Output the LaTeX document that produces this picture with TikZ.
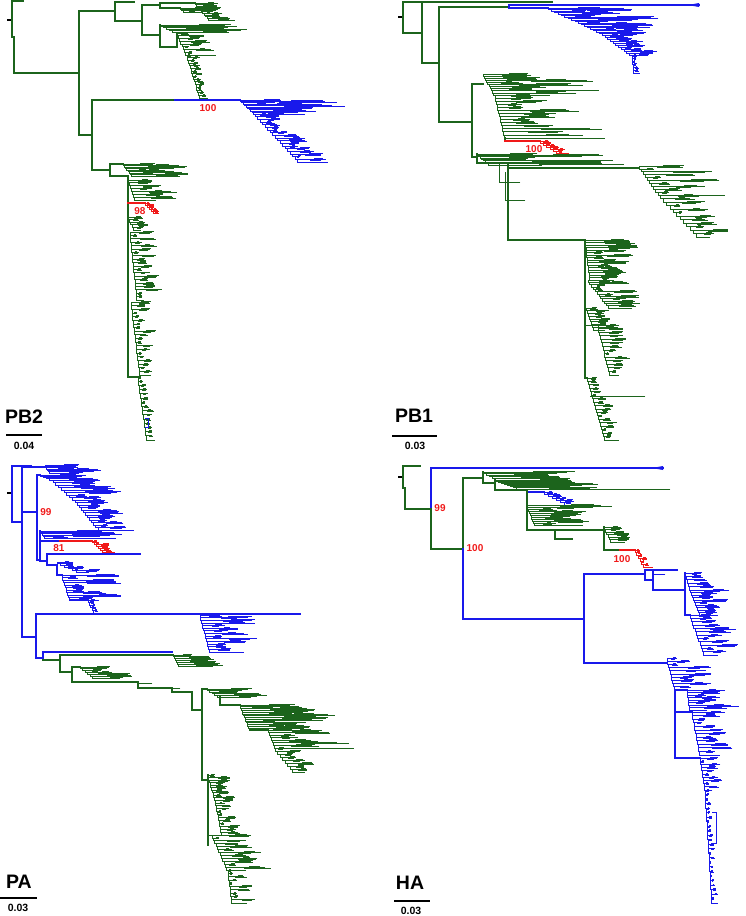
\documentclass[tikz,border=0pt]{standalone}
\usepackage{fontspec}
\setmainfont{Liberation Sans}
\definecolor{cg}{RGB}{28,100,28}
\definecolor{cb}{RGB}{25,25,235}
\definecolor{cr}{RGB}{240,25,25}
\newcommand\tclade[8]{%
  \foreach \li in {1,...,#6}{%
    \pgfmathsetmacro\lxp{#2+(\li-1)/#6*(#4-#2)}%
    \pgfmathsetmacro\lyp{#3+(\li-1)/#6*(#5-#3)}%
    \pgfmathsetmacro\lxc{#2+\li/#6*(#4-#2)}%
    \pgfmathsetmacro\lyc{#3+\li/#6*(#5-#3)}%
    \pgfmathsetmacro\ltl{#7+rnd*(#8-#7)}%
    \pgfmathsetmacro\ltm{\ltl*(0.25+0.5*rnd)}%
    \pgfmathsetmacro\ltn{\ltl*(0.15+0.35*rnd)}%
    \draw[#1] (\lxp,\lyp) |- (\lxc,\lyc);
    \draw[#1] (\lxp,\lyp) -- ++(\ltl,0);
    \draw[#1] (\lxp+0.45*\ltl,\lyp) |- ++(\ltm,0.9);
    \draw[#1] (\lxp+0.6*\ltl,\lyp) |- ++(\ltn,-0.8);
  }%
  \pgfmathsetmacro\ltl{#7+rnd*(#8-#7)}%
  \draw[#1] (#4,#5) -- ++(\ltl,0);
}
\begin{document}
\begin{tikzpicture}[x=1pt,y=-1pt,line cap=rect,
  gbr/.style={draw=cg,line width=1.3pt},
  bbr/.style={draw=cb,line width=1.3pt},
  rbr/.style={draw=cr,line width=1.3pt},
  gtw/.style={draw=cg,line width=0.8pt},
  btw/.style={draw=cb,line width=0.8pt},
  rtw/.style={draw=cr,line width=0.8pt},
  blk/.style={draw=black,line width=1.6pt},
  lab/.style={font=\bfseries\fontsize{10}{12}\selectfont,text=cr,inner sep=0pt},
  gene/.style={font=\bfseries\fontsize{19.5}{22}\selectfont,inner sep=0pt},
  sc/.style={font=\bfseries\fontsize{10.5}{12}\selectfont,inner sep=0pt},
  scalebar/.style={draw=black,line width=2.7pt,line cap=butt}]
\useasboundingbox (0,0) rectangle (745,916);
\pgfmathsetseed{7}
% ================= PB2 =================
\draw[blk] (8,20)--(12,20);
\draw[gbr] (23,1)--(12,1)--(12,37)--(14,37)--(14,73)--(79,73);
\draw[gbr] (115,11)--(79,11)--(79,135)--(92,135);
\draw[gbr] (134,2)--(115,2)--(115,21)--(142,21);
\draw[gbr] (160,5)--(142,5)--(142,35)--(160,35);
\draw[gbr] (195,3)--(160,3)--(160,8)--(180,8);
\tclade{gtw}{195}{3}{210}{20}{10}{8}{25}
\tclade{gtw}{180}{8}{185}{12}{3}{10}{30}
\draw[gbr] (160,25)--(160,47)--(177,47);
\tclade{gtw}{160}{25}{176}{32}{5}{40}{70}
\draw[gbr] (177,33)--(177,47);
\tclade{gtw}{177}{33}{187}{55}{8}{5}{35}
\tclade{gtw}{187}{55}{200}{98}{16}{2}{12}
\draw[gbr] (92,100)--(175,100);
\draw[bbr] (175,100)--(240,100);
\tclade{btw}{240}{100}{255}{114}{10}{25}{95}
\tclade{btw}{255}{114}{300}{162}{18}{5}{28}
\node[lab] (l100a) at (208,108) {100};
\draw[gbr] (92,100)--(92,170)--(110,170);
\draw[gbr] (123,164)--(110,164)--(110,176)--(128,176);
\tclade{gtw}{123}{164}{133}{176}{8}{20}{60}
\draw[gbr] (128,176)--(128,377)--(138,377);
\tclade{gtw}{128}{180}{135}{200}{7}{10}{40}
\draw[rbr] (128,203)--(145,203);
\tclade{rtw}{145}{203}{155}{213}{5}{3}{8}
\node[lab] (l98) at (140,211) {98};
\tclade{gtw}{128}{217}{135}{230}{5}{5}{15}
\tclade{gtw}{130}{232}{137}{300}{20}{3}{25}
\tclade{gtw}{131}{302}{140}{375}{20}{3}{22}
\tclade{gtw}{138}{377}{147}{440}{15}{2}{10}
\draw[btw] (145,418)--(148,418)--(148,427)--(145,427);
\node[gene] (pb2) at (24,417) {PB2};
\draw[scalebar] (6,435)--(42,435);
\node[sc] (s1) at (24,446) {0.04};
% ================= PB1 =================
\draw[blk] (399,17)--(403,17);
\draw[gbr] (552,2)--(403,2)--(403,33)--(422,33);
\draw[gbr] (422,2)--(422,63)--(439,63);
\draw[gbr] (509,7)--(439,7)--(439,122)--(472,122);
\draw[bbr] (509,5)--(699,5);
\draw[bbr] (509,5)--(509,8)--(548,8);
\fill[cb] (688,5)--(699,3)--(699,7)--cycle;
\tclade{btw}{548}{8}{575}{20}{8}{20}{90}
\tclade{btw}{575}{20}{605}{35}{10}{20}{70}
\tclade{btw}{605}{35}{632}{55}{10}{10}{45}
\tclade{btw}{632}{55}{634}{73}{6}{2}{6}
\draw[gbr] (472,84)--(472,157);
\draw[gbr] (472,84)--(483,84);
\tclade{gtw}{483}{74}{495}{95}{10}{30}{110}
\tclade{gtw}{495}{95}{505}{138}{14}{20}{100}
\draw[gbr] (505,138)--(505,141);
\draw[rbr] (505,141)--(540,141);
\tclade{rtw}{540}{141}{560}{153}{6}{3}{12}
\node[lab] (l100b) at (534,149) {100};
\draw[gbr] (472,157)--(477,157);
\tclade{gtw}{477}{154}{490}{165}{8}{40}{150}
\draw[gbr] (477,154)--(477,163)--(508,163)--(508,240)--(585,240);
\draw[gbr] (508,168)--(639,168);
\draw[gtw] (499,163)--(499,182)--(520,182);
\draw[gtw] (505,172)--(505,200)--(525,200);
\tclade{gtw}{639}{166}{660}{195}{10}{10}{75}
\tclade{gtw}{660}{195}{700}{237}{12}{5}{40}
\draw[gbr] (585,240)--(585,378)--(587,378);
\tclade{gtw}{585}{240}{590}{280}{16}{10}{55}
\tclade{gtw}{588}{280}{610}{308}{12}{5}{40}
\tclade{gtw}{586}{308}{595}{330}{8}{8}{28}
\draw[gtw] (585,325)--(598,325);
\tclade{gtw}{598}{325}{610}{375}{14}{3}{25}
\tclade{gtw}{587}{378}{605}{440}{18}{3}{18}
\draw[gtw] (590,396)--(645,396);
\node[gene] (pb1) at (414,416) {PB1};
\draw[scalebar] (392,436)--(437,436);
\node[sc] (s2) at (415,446) {0.03};
% ================= PA =================
\draw[blk] (8,493)--(12,493);
\draw[bbr] (31,466)--(12,466)--(12,522)--(22,522);
\draw[bbr] (45,467)--(22,467)--(22,637)--(36,637);
\tclade{btw}{45}{465}{50}{473}{6}{20}{50}
\draw[bbr] (22,512)--(37,512);
\draw[bbr] (40,475)--(37,475)--(37,560)--(40,560);
\node[lab] (l99a) at (46,512) {99};
\tclade{btw}{40}{475}{53}{480}{4}{30}{60}
\tclade{btw}{53}{480}{75}{500}{8}{15}{55}
\tclade{btw}{75}{500}{100}{530}{12}{10}{37}
\draw[bbr] (40,531)--(40,561);
\tclade{btw}{40}{531}{45}{538}{5}{20}{90}
\draw[bbr] (40,541)--(60,541);
\draw[rbr] (60,541)--(92,541);
\tclade{rtw}{92}{541}{105}{552}{6}{3}{12}
\node[lab] (l81) at (59,548) {81};
\draw[bbr] (40,561)--(47,561);
\draw[bbr] (47,554)--(140,554);
\draw[bbr] (47,554)--(47,565)--(57,565);
\tclade{btw}{57}{562}{80}{572}{6}{5}{25}
\draw[bbr] (57,565)--(57,575)--(62,575);
\tclade{btw}{62}{575}{70}{600}{10}{10}{65}
\draw[bbr] (70,600)--(88,600);
\tclade{btw}{88}{600}{95}{613}{5}{3}{8}
\draw[bbr] (36,614)--(36,658);
\draw[bbr] (36,614)--(300,614);
\tclade{btw}{200}{615}{210}{652}{14}{15}{53}
\draw[bbr] (36,658)--(43,658);
\draw[bbr] (43,652)--(43,660);
\draw[bbr] (43,652)--(172,652);
\draw[gbr] (43,660)--(60,660);
\draw[gbr] (60,655)--(60,672);
\draw[gbr] (60,655)--(173,655);
\tclade{gtw}{173}{655}{180}{666}{6}{15}{45}
\draw[gbr] (60,672)--(72,672);
\draw[gbr] (72,667)--(72,682);
\draw[gbr] (72,667)--(80,667);
\tclade{gtw}{80}{667}{95}{678}{6}{15}{40}
\draw[gbr] (72,682)--(138,682)--(138,688)--(172,688)--(172,692)--(192,692)--(192,710)--(202,710);
\draw[gtw] (138,683)--(152,683);
\draw[gtw] (172,688)--(180,688);
\draw[gbr] (207,689)--(202,689)--(202,780)--(208,780);
\tclade{gtw}{207}{689}{220}{697}{5}{20}{55}
\draw[gbr] (220,697)--(220,705)--(240,705);
\tclade{gtw}{240}{705}{250}{730}{14}{25}{90}
\draw[gbr] (250,730)--(268,730);
\tclade{gtw}{268}{730}{275}{748}{7}{15}{80}
\tclade{gtw}{275}{748}{295}{772}{8}{5}{25}
\draw[gbr] (208,775)--(208,845);
\tclade{gtw}{208}{775}{215}{800}{10}{5}{25}
\tclade{gtw}{215}{800}{222}{835}{12}{3}{18}
\draw[gtw] (208,835)--(212,835);
\tclade{gtw}{212}{835}{228}{870}{12}{5}{45}
\tclade{gtw}{228}{870}{232}{903}{10}{2}{25}
\node[gene] (pa) at (19,882) {PA};
\draw[scalebar] (0,898)--(37,898);
\node[sc] (s3) at (18,908) {0.03};
% ================= HA =================
\draw[blk] (399,477)--(403,477);
\draw[gbr] (420,466)--(403,466)--(403,488)--(405,488)--(405,509)--(431,509);
\node[lab] (l99b) at (440,508) {99};
\draw[bbr] (663,468)--(431,468)--(431,509);
\fill[cb] (652,468)--(663,466)--(663,470)--cycle;
\draw[gbr] (431,509)--(431,549)--(463,549);
\node[lab] (l100c) at (475,548) {100};
\draw[gbr] (463,478)--(463,549);
\draw[bbr] (463,549)--(463,619)--(584,619);
\draw[gbr] (463,478)--(483,478);
\draw[gbr] (483,472)--(483,483)--(495,483);
\tclade{gtw}{483}{472}{495}{478}{4}{40}{105}
\draw[gbr] (495,480)--(495,490)--(527,490);
\tclade{gtw}{495}{480}{520}{489}{8}{30}{90}
\draw[gtw] (528,489)--(670,489);
\draw[bbr] (527,492)--(544,492);
\tclade{btw}{544}{492}{568}{505}{6}{3}{12}
\draw[gbr] (527,490)--(527,530)--(555,530);
\tclade{gtw}{527}{505}{535}{525}{10}{15}{75}
\draw[gbr] (555,530)--(604,530);
\draw[gbr] (555,530)--(555,539)--(572,539);
\draw[gbr] (604,527)--(604,550)--(620,550);
\tclade{gtw}{604}{527}{612}{542}{6}{10}{25}
\draw[rbr] (620,550)--(635,550);
\tclade{rtw}{635}{550}{645}{567}{6}{2}{8}
\node[lab] (l100d) at (622,559) {100};
\draw[bbr] (584,574)--(584,663);
\draw[bbr] (584,574)--(645,574);
\draw[bbr] (645,570)--(645,580)--(653,580);
\draw[bbr] (645,570)--(677,570);
\draw[bbr] (653,572)--(653,590)--(685,590);
\draw[btw] (653,574)--(665,574);
\draw[bbr] (685,573)--(685,615)--(690,615);
\tclade{btw}{685}{573}{690}{590}{5}{10}{25}
\tclade{btw}{690}{590}{700}{615}{10}{10}{40}
\tclade{btw}{690}{615}{705}{655}{12}{5}{35}
\draw[bbr] (584,663)--(667,663);
\tclade{btw}{667}{658}{675}{690}{10}{5}{45}
\draw[bbr] (675,690)--(675,758)--(700,758);
\draw[bbr] (675,690)--(687,690);
\tclade{btw}{687}{690}{690}{710}{8}{10}{50}
\draw[bbr] (675,712)--(692,712);
\tclade{btw}{692}{712}{700}{755}{12}{5}{38}
\tclade{btw}{700}{758}{705}{790}{10}{3}{20}
\tclade{btw}{705}{790}{712}{903}{25}{1}{6}
\draw[btw] (712,812)--(716,812)--(716,843)--(712,843);
\node[gene] (ha) at (410,883) {HA};
\draw[scalebar] (394,901)--(430,901);
\node[sc] (s4) at (411,911) {0.03};
\end{tikzpicture}
\end{document}
